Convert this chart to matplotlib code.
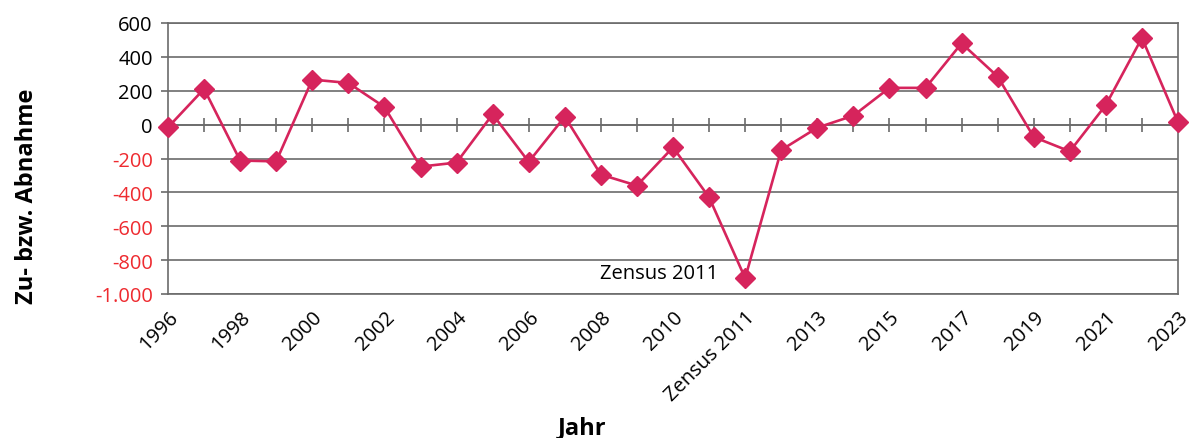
import matplotlib.pyplot as plt
import numpy as np

plt.rcParams['font.family'] = ['Open Sans', 'DejaVu Sans']

jahre = [str(j) for j in range(1996, 2012)] + ["Zensus 2011"] + [str(j) for j in range(2012, 2024)]
werte = [-16, 211, -212, -217, 266, 246, 104, -248, -224, 61, -220, 47, -295, -360,
         -134, -429, -906, -150, -18, 53, 217, 217, 480, 284, -73, -158, 116, 512, 14]
yticks = [600, 400, 200, 0, -200, -400, -600, -800, -1000]

linie = "#d6245c"
grau = "#6b6b6b"
rot = "#ee2a2f"

fig = plt.figure(figsize=(11.9, 4.39), dpi=100)
ax = fig.add_axes([168/1190, 1 - 295/439, (1178-168)/1190, (295-24)/439])

x = np.arange(len(jahre))
ax.plot(x, werte, color=linie, lw=1.9, marker='D', markersize=10, zorder=5, clip_on=False)

ax.set_xlim(0, len(jahre) - 1)
ax.set_ylim(-1000, 600)
ax.set_yticks(yticks)
ax.set_yticklabels([f"{v:,}".replace(",", ".") for v in yticks], fontsize=14.5)
for lab, v in zip(ax.get_yticklabels(), yticks):
    lab.set_color(rot if v < 0 else "black")
ax.yaxis.grid(True, color=grau, lw=1.2)
ax.tick_params(axis='y', direction='out', length=5, width=1.2, color=grau, pad=6)

# x-Achse bei 0 mit Strichen, Beschriftung unten
ax.spines['bottom'].set_position(('data', 0))
ax.set_xticks(x)
ax.set_xticklabels([])
ax.tick_params(axis='x', direction='inout', length=10, width=1.2, color=grau)
for s in ['left', 'right', 'bottom', 'top']:
    ax.spines[s].set_color(grau)
    ax.spines[s].set_linewidth(1.2)

sec = ax.secondary_xaxis('bottom')
sec.set_xticks(x[::2])
sec.set_xticklabels(jahre[::2], rotation=45, ha='right', rotation_mode='anchor', fontsize=14.5)
sec.tick_params(length=0, pad=9)
sec.spines['bottom'].set_color(grau)
sec.spines['bottom'].set_linewidth(1.2)

ax.text(15.25, -875, "Zensus 2011", ha='right', va='center', fontsize=14.5)

fig.text(582/1190, 1 - 428/439, "Jahr", ha='center', va='center', fontsize=17, fontweight='bold')
fig.text(27/1190, 1 - 196/439, "Zu- bzw. Abnahme", ha='center', va='center', rotation=90,
         fontsize=17, fontweight='bold')

plt.savefig("out.png", dpi=100)
